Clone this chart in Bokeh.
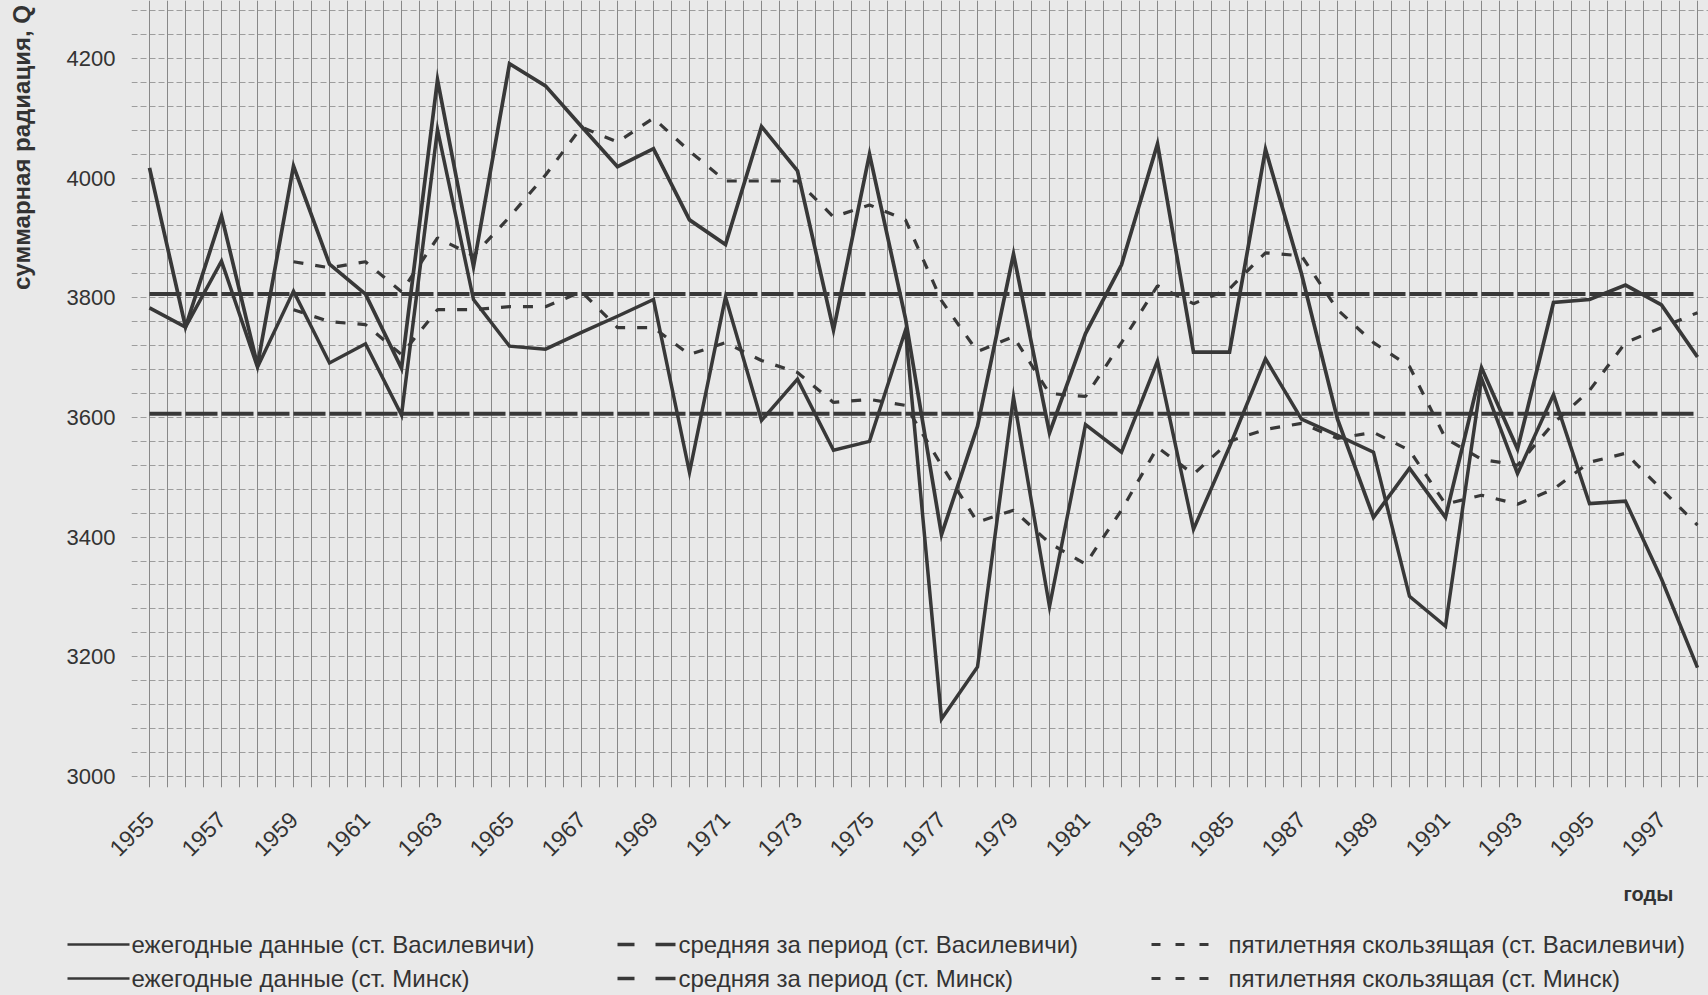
import math
from bokeh.plotting import figure
from bokeh.layouts import column, row
from bokeh.models import Range1d, FixedTicker
from bokeh.embed import file_html
from bokeh.resources import INLINE
from bokeh.core.properties import value

# ---------------- data ----------------
years = list(range(1955, 1999))

annual_vasilevichi = [
    4017, 3751, 3937, 3687, 4020, 3856, 3806, 3682, 4164, 3852,
    4191, 4154, 4086, 4019, 4049, 3930, 3889, 4086, 4012, 3746,
    4040, 3765, 3404, 3585, 3873, 3574, 3740, 3855, 4057, 3709,
    3709, 4048, 3840, 3597, 3433, 3515, 3433, 3683, 3547, 3792,
    3797, 3821, 3788, 3701]

annual_minsk = [
    3783, 3751, 3861, 3684, 3811, 3691, 3723, 3604, 4081, 3797,
    3719, 3714, 3742, 3769, 3797, 3508, 3801, 3595, 3664, 3545,
    3560, 3746, 3096, 3183, 3634, 3284, 3588, 3542, 3694, 3413,
    3551, 3698, 3597, 3570, 3542, 3301, 3251, 3665, 3506, 3638,
    3456, 3460, 3330, 3182]

mean_vasilevichi = 3806
mean_minsk = 3606

ma_years = list(range(1959, 1999))
ma_vasilevichi = [
    3860, 3850, 3860, 3810, 3900, 3870, 3935, 4005, 4085, 4060,
    4100, 4045, 3995, 3995, 3995, 3935, 3955, 3930, 3795, 3710,
    3735, 3640, 3635, 3725, 3820, 3790, 3815, 3875, 3870, 3780,
    3725, 3685, 3565, 3530, 3520, 3590, 3645, 3725, 3750, 3775]
ma_minsk = [
    3780, 3760, 3755, 3705, 3780, 3780, 3785, 3785, 3810, 3750,
    3750, 3705, 3725, 3695, 3675, 3625, 3630, 3620, 3520, 3425,
    3445, 3390, 3355, 3445, 3550, 3505, 3560, 3580, 3590, 3565,
    3575, 3545, 3455, 3470, 3455, 3480, 3525, 3540, 3480, 3420]

x_tick_years = list(range(1955, 1998, 2))
y_tick_values = [3000, 3200, 3400, 3600, 3800, 4000, 4200]

y_title = "суммарная радиация, Q"
x_title = "годы"
legend_labels = [
    "ежегодные данные (ст. Василевичи)",
    "ежегодные данные (ст. Минск)",
    "средняя за период (ст. Василевичи)",
    "средняя за период (ст. Минск)",
    "пятилетняя скользящая (ст. Василевичи)",
    "пятилетняя скользящая (ст. Минск)",
]

# ---------------- styling / geometry ----------------
FONT = "Liberation Sans"
INK = "#383838"
TEXT = "#333333"
BG = "#e9e9e9"

W_PAGE = 1708
W_TITLE = 40
W = W_PAGE - W_TITLE
H_MAIN = 880
H_LEG = 114
FRAME_LEFT_PAGE = 131
FRAME_BOTTOM = 787
PX_PER_YEAR = 36.0
X0 = 1954.5
X1 = X0 + (W_PAGE - FRAME_LEFT_PAGE) / PX_PER_YEAR
Y0, Y1 = 2981.6, 4296.6


def bare(fig):
    fig.background_fill_color = BG
    fig.border_fill_color = BG
    fig.outline_line_color = None
    fig.grid.visible = False
    if "frame_align" in fig.properties():
        fig.frame_align = False


# ---- left strip with the y title ----
tf = figure(width=W_TITLE, height=H_MAIN + H_LEG, output_backend="svg", toolbar_location=None,
            x_range=Range1d(0, W_TITLE), y_range=Range1d(H_MAIN + H_LEG, 0),
            min_border=0, min_border_left=0, min_border_right=0,
            min_border_top=0, min_border_bottom=0,
            x_axis_type=None, y_axis_type=None)
bare(tf)
tf.text(x=[21], y=[147], text=[y_title], angle=math.pi / 2,
        text_font=value(FONT), text_font_size="24px", text_font_style="bold",
        text_color=TEXT, text_align="center", text_baseline="middle")

# ---- main chart ----
p = figure(width=W, height=H_MAIN, output_backend="svg", toolbar_location=None,
           x_range=Range1d(X0, X1), y_range=Range1d(Y0, Y1),
           min_border_left=FRAME_LEFT_PAGE - W_TITLE, min_border_right=0, min_border_top=0,
           min_border_bottom=H_MAIN - FRAME_BOTTOM)
p.background_fill_color = BG
p.border_fill_color = BG
p.outline_line_color = None
if "frame_align" in p.properties():
    p.frame_align = False

# graph-paper grid
p.xgrid.ticker = FixedTicker(ticks=[X0 + 0.5 * k for k in range(0, 90)])
p.xgrid.grid_line_color = "#777777"
p.xgrid.grid_line_width = 1
p.xgrid.grid_line_alpha = 0.85
p.ygrid.ticker = FixedTicker(ticks=list(range(3000, 4300, 40)))
p.ygrid.grid_line_color = "#8a8a8a"
p.ygrid.grid_line_width = 1
p.ygrid.grid_line_dash = "6 3"
p.ygrid.grid_line_alpha = 0.8

# axes
for ax in (p.xaxis, p.yaxis):
    ax.axis_line_color = None
    ax.major_tick_line_color = None
    ax.minor_tick_line_color = None
    ax.major_tick_out = 0
    ax.major_tick_in = 0
    ax.major_label_text_font = FONT
    ax.major_label_text_color = TEXT
p.xaxis.ticker = FixedTicker(ticks=x_tick_years)
p.xaxis.major_label_orientation = math.pi / 4
p.xaxis.major_label_text_font_size = "23px"
p.xaxis.major_label_standoff = 28
p.yaxis.ticker = FixedTicker(ticks=y_tick_values)
p.yaxis.major_label_text_font_size = "22px"
p.yaxis.major_label_standoff = 16

# series
p.line(years, [mean_vasilevichi] * len(years), line_color=INK, line_width=4, line_dash="32 4")
p.line(years, [mean_minsk] * len(years), line_color=INK, line_width=4, line_dash="32 4")
p.line(ma_years, ma_vasilevichi, line_color=INK, line_width=3.2, line_dash="10 12")
p.line(ma_years, ma_minsk, line_color=INK, line_width=3.2, line_dash="10 12")
p.line(years, annual_minsk, line_color=INK, line_width=3.5, line_join="miter")
p.line(years, annual_vasilevichi, line_color=INK, line_width=3.7, line_join="miter")

# ---- legend strip (page-pixel coordinates) ----
lg = figure(width=W, height=H_LEG, output_backend="svg", toolbar_location=None,
            x_range=Range1d(W_TITLE, W_PAGE), y_range=Range1d(H_MAIN + H_LEG, H_MAIN),
            min_border=0, min_border_left=0, min_border_right=0,
            min_border_top=0, min_border_bottom=0,
            x_axis_type=None, y_axis_type=None)
bare(lg)

r1, r2 = 944, 978
lg.segment(x0=[67, 67], y0=[r1, r2], x1=[129, 129], y1=[r1, r2], line_color=INK, line_width=2.5)
lg.segment(x0=[617, 655, 617, 655], y0=[r1, r1, r2, r2], x1=[634, 675, 634, 675], y1=[r1, r1, r2, r2],
           line_color=INK, line_width=3.5)
lg.line([1151, 1209], [r1, r1], line_color=INK, line_width=3, line_dash="9 15")
lg.line([1151, 1209], [r2, r2], line_color=INK, line_width=3, line_dash="9 15")
lg.text(x=[131, 131, 678, 678, 1228, 1228], y=[r1, r2, r1, r2, r1, r2], text=legend_labels,
        text_font=value(FONT), text_font_size="24px", text_color=TEXT, text_baseline="middle")
lg.text(x=[1623], y=[893], text=[x_title], text_font=value(FONT), text_font_size="20px",
        text_font_style="bold", text_color=TEXT, text_baseline="middle")

layout = row(tf, column(p, lg, spacing=0), spacing=0)
html = file_html(layout, INLINE)
html = html.replace("<head>", "<head><style>body{background:#e9e9e9;}</style>", 1)
open("out.html", "w").write(html)
